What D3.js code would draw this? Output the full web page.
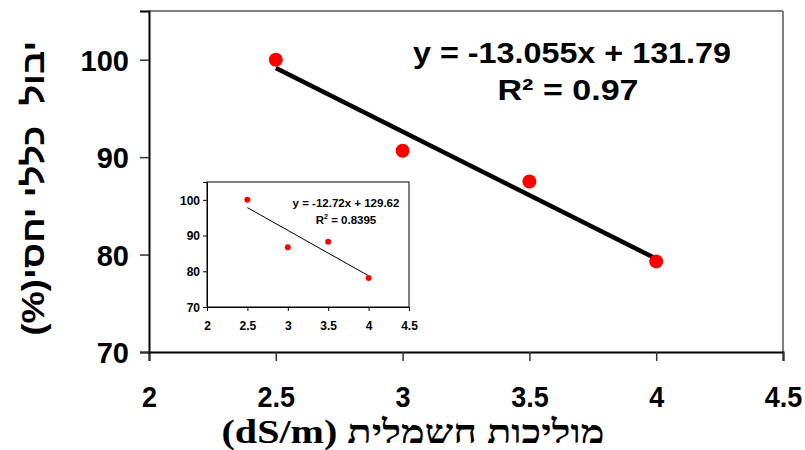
<!DOCTYPE html>
<html>
<head>
<meta charset="utf-8">
<title>Yield vs EC</title>
<script src="https://cdn.jsdelivr.net/npm/d3@7/dist/d3.min.js"></script>
<style>
body{margin:0;background:#fff}
text{font-family:"Liberation Sans",Arial,sans-serif;font-weight:bold;fill:#000}
</style>
</head>
<body>
<div id="chart"></div>
<script>
// main chart
var ecValues = [2.5, 3, 3.5, 4];
var yieldValues = [100, 90.66, 87.5, 79.3];
var trendMain = [-13.055, 131.79];   // slope, intercept
var eqMain = "y = -13.055x + 131.79";
var r2Main = "R² = 0.97";

// small chart inside
var insetYield = [100, 86.7, 88.3, 78.1];
var trendInset = [-12.72, 129.62];
var eqInset = "y = -12.72x + 129.62";
var r2Inset = " = 0.8395";

var xTicks = [2, 2.5, 3, 3.5, 4, 4.5];
var yTicks = [70, 80, 90, 100];
var xTitle = "מוליכות חשמלית (dS/m)";
var yTitle = "יבול  כללי יחסי(%)";

var W = 805, H = 450;
var svg = d3.select("#chart").append("svg").attr("width", W).attr("height", H);

var pts = ecValues.map(function(d, i){ return {x: d, y: yieldValues[i]}; });
var ptsIn = ecValues.map(function(d, i){ return {x: d, y: insetYield[i]}; });

var x = d3.scaleLinear().domain([2, 4.5]).range([149, 783]);
var y = d3.scaleLinear().domain([70, 105]).range([352, 11]);

// frame: top/right grey, left/bottom black
svg.append("line").attr("x1", x(2)).attr("x2", x(4.5)).attr("y1", y(105)).attr("y2", y(105))
  .attr("stroke", "#808080").attr("stroke-width", 2);
svg.append("line").attr("x1", x(4.5)).attr("x2", x(4.5)).attr("y1", y(105)).attr("y2", y(70))
  .attr("stroke", "#808080").attr("stroke-width", 2);

var xAxis = svg.append("g").attr("transform", "translate(0," + y(70) + ")")
  .call(d3.axisBottom(x).tickValues(xTicks).tickSize(9).tickFormat(function(d){ return String(d); }));
var yAxis = svg.append("g").attr("transform", "translate(" + x(2) + ",0)")
  .call(d3.axisLeft(y).tickValues(yTicks).tickSize(9).tickFormat(function(d){ return String(d); }));
[xAxis, yAxis].forEach(function(a){
  a.select(".domain").attr("stroke", "#000").attr("stroke-width", 2);
  a.selectAll(".tick line").attr("stroke", "#333").attr("stroke-width", 1.5);
  a.selectAll("text").style("font-family", "'Liberation Sans',Arial,sans-serif")
    .style("font-weight", "bold").attr("fill", "#000");
});
xAxis.selectAll("text").style("font-size", "30px").attr("x", 0).attr("y", 0).attr("dy", "55px")
  .attr("transform", "scale(0.9,1)");
yAxis.selectAll("text").style("font-size", "29px").attr("x", -20).attr("dy", "0.36em");

// trend line main
svg.append("line")
  .attr("x1", x(ecValues[0])).attr("y1", y(trendMain[0] * ecValues[0] + trendMain[1]))
  .attr("x2", x(ecValues[3])).attr("y2", y(trendMain[0] * ecValues[3] + trendMain[1]))
  .attr("stroke", "#000").attr("stroke-width", 4.5);

svg.selectAll("circle.main").data(pts).enter().append("circle").attr("class", "main")
  .attr("cx", function(d){ return x(d.x); }).attr("cy", function(d){ return y(d.y); })
  .attr("r", 7).attr("fill", "#ff0000");

svg.append("text").attr("x", 572).attr("y", 63).attr("text-anchor", "middle")
  .style("font-size", "30px").attr("textLength", 318).attr("lengthAdjust", "spacingAndGlyphs")
  .text(eqMain);
svg.append("text").attr("x", 568).attr("y", 100).attr("text-anchor", "middle")
  .style("font-size", "30px").attr("textLength", 141).attr("lengthAdjust", "spacingAndGlyphs")
  .text(r2Main);

// axis titles
svg.append("text").attr("x", 413).attr("y", 443).attr("text-anchor", "middle")
  .attr("direction", "rtl").style("unicode-bidi", "embed")
  .style("font-family", "'Liberation Serif','Times New Roman',serif").style("font-size", "33px")
  .attr("textLength", 383).attr("lengthAdjust", "spacingAndGlyphs")
  .text(xTitle);
svg.append("text").attr("transform", "translate(44,188) rotate(-90)").attr("text-anchor", "middle")
  .attr("direction", "rtl").style("unicode-bidi", "embed").style("white-space", "pre")
  .style("font-size", "31px")
  .attr("textLength", 295).attr("lengthAdjust", "spacingAndGlyphs")
  .text(yTitle);

// inset chart
var xi = d3.scaleLinear().domain([2, 4.5]).range([207, 409]);
var yi = d3.scaleLinear().domain([70, 105]).range([307, 182]);

svg.append("rect").attr("x", xi(2)).attr("y", yi(105)).attr("width", xi(4.5) - xi(2))
  .attr("height", yi(70) - yi(105)).attr("fill", "#fff").attr("stroke", "#000").attr("stroke-width", 1);

var xiAxis = svg.append("g").attr("transform", "translate(0," + yi(70) + ")")
  .call(d3.axisBottom(xi).tickValues(xTicks).tickSize(4).tickFormat(function(d){ return String(d); }));
var yiAxis = svg.append("g").attr("transform", "translate(" + xi(2) + ",0)")
  .call(d3.axisLeft(yi).tickValues(yTicks).tickSize(4).tickFormat(function(d){ return String(d); }));
[xiAxis, yiAxis].forEach(function(a){
  a.select(".domain").attr("stroke", "#000");
  a.selectAll(".tick line").attr("stroke", "#000");
  a.selectAll("text").style("font-family", "'Liberation Sans',Arial,sans-serif")
    .style("font-weight", "bold").style("font-size", "12px").attr("fill", "#000");
});
xiAxis.selectAll("text").attr("y", 0).attr("dy", "23px");
yiAxis.selectAll("text").attr("x", -7).attr("dy", "0.35em");

svg.append("line")
  .attr("x1", xi(ecValues[0])).attr("y1", yi(trendInset[0] * ecValues[0] + trendInset[1]))
  .attr("x2", xi(ecValues[3])).attr("y2", yi(trendInset[0] * ecValues[3] + trendInset[1]))
  .attr("stroke", "#000").attr("stroke-width", 1);

svg.selectAll("circle.inset").data(ptsIn).enter().append("circle").attr("class", "inset")
  .attr("cx", function(d){ return xi(d.x); }).attr("cy", function(d){ return yi(d.y); })
  .attr("r", 3).attr("fill", "#ff0000");

svg.append("text").attr("x", 346).attr("y", 207).attr("text-anchor", "middle")
  .style("font-size", "11.5px").text(eqInset);
var r2t = svg.append("text").attr("x", 346).attr("y", 224).attr("text-anchor", "middle")
  .style("font-size", "11.5px");
r2t.append("tspan").text("R");
r2t.append("tspan").attr("dy", -5).style("font-size", "7px").text("2");
r2t.append("tspan").attr("dy", 5).text(r2Inset);
</script>
</body>
</html>
